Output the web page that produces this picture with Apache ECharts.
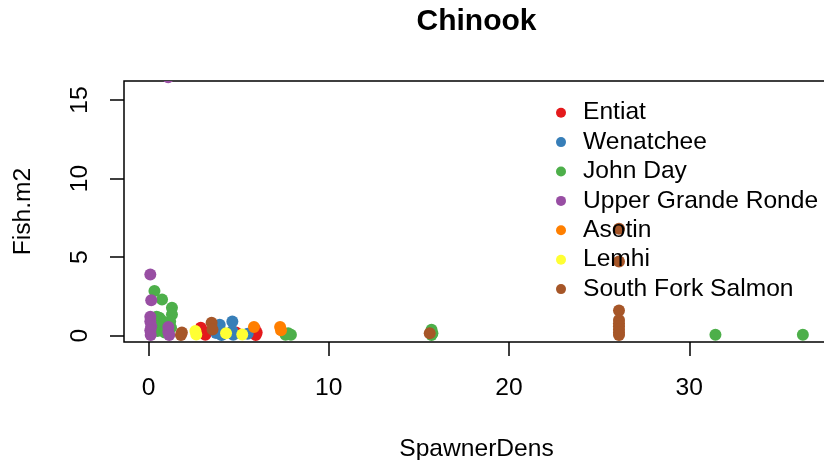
<!DOCTYPE html>
<html>
<head>
<meta charset="utf-8">
<script src="https://cdn.jsdelivr.net/npm/echarts@6/dist/echarts.min.js"></script>
<style>
  html, body { margin: 0; padding: 0; background: #fff; }
  #chart { width: 824px; height: 460px; }
</style>
</head>
<body>
<div id="chart"></div>
<script>
// Juvenile Chinook density (fish per m2) against spawner density, by watershed
const siteNames = ['Entiat', 'Wenatchee', 'John Day', 'Upper Grande Ronde', 'Asotin', 'Lemhi', 'South Fork Salmon'];
const siteColors = ['#E41A1C', '#377EB8', '#4DAF4A', '#984EA3', '#FF7F00', '#FFFF33', '#A65628'];

// [SpawnerDens, Fish.m2] pairs per watershed
const entiat = [[2.9, 0.5], [3.05, 0.27], [3.15, 0.06], [4.85, 0.2], [5.9, 0.42], [6.0, 0.2], [5.95, 0.05]];
const wenatchee = [[3.75, 0.17], [3.95, 0.7], [4.0, 0.3], [4.05, 0.05], [4.65, 0.91], [4.65, 0.3], [4.7, 0.06], [5.5, 0.12]];
const johnDay = [[0.33, 2.85], [0.75, 2.3], [1.3, 1.78], [1.3, 1.35], [0.45, 1.2], [0.6, 1.15], [0.35, 1.0],
                 [0.7, 1.0], [0.5, 0.85], [0.8, 0.75], [0.4, 0.6], [0.65, 0.5], [1.2, 0.9], [1.25, 0.5],
                 [0.5, 0.3], [0.9, 0.2], [7.6, 0.06], [7.9, 0.06], [7.75, 0.15], [15.7, 0.38], [15.75, 0.15],
                 [15.7, 0.05], [31.45, 0.06], [36.3, 0.06]];
const upperGrandeRonde = [[1.09, 16.45], [0.1, 3.9], [0.15, 2.25], [0.1, 1.2], [0.1, 0.9], [0.15, 0.6],
                          [0.1, 0.35], [0.12, 0.05], [1.1, 0.55], [1.1, 0.25], [1.15, 0.05]];
const asotin = [[5.85, 0.55], [7.3, 0.55], [7.35, 0.35]];
const lemhi = [[2.6, 0.3], [2.65, 0.08], [4.3, 0.15], [5.2, 0.08]];
const southForkSalmon = [[1.85, 0.2], [1.8, 0.05], [3.5, 0.83], [3.55, 0.4], [15.6, 0.15],
                         [26.1, 6.8], [26.1, 4.72], [26.1, 1.6], [26.1, 1.0], [26.1, 0.8], [26.1, 0.6],
                         [26.1, 0.4], [26.1, 0.2], [26.1, 0.05]];
const siteData = [entiat, wenatchee, johnDay, upperGrandeRonde, asotin, lemhi, southForkSalmon];

const xTicks = [0, 10, 20, 30];
const yTicks = [0, 5, 10, 15];

const FONT = '"Liberation Sans", Arial, Helvetica, sans-serif';
const FS = 24.6;

const chart = echarts.init(document.getElementById('chart'), null, { renderer: 'canvas' });

const series = siteNames.map((name, i) => ({
  name: name,
  type: 'custom',
  clip: true,
  coordinateSystem: 'cartesian2d',
  itemStyle: { color: siteColors[i] },
  encode: { x: 0, y: 1 },
  data: siteData[i],
  renderItem: function (params, api) {
    const p = api.coord([api.value(0), api.value(1)]);
    return {
      type: 'circle',
      shape: { cx: p[0], cy: p[1], r: 6 },
      style: { fill: siteColors[i] }
    };
  }
}));

chart.setOption({
  animation: false,
  backgroundColor: '#fff',
  textStyle: { fontFamily: FONT },
  graphic: [{
    type: 'text',
    x: 476.5,
    y: 21.5,
    style: {
      text: 'Chinook',
      font: 'bold 30px ' + FONT,
      fill: '#000',
      textAlign: 'center',
      textVerticalAlign: 'middle'
    }
  }],
  grid: {
    left: 124, top: 81, width: 705, bottom: 118,
    outerBoundsMode: 'none',
    containLabel: false,
    show: true, borderColor: '#000', borderWidth: 1.5, backgroundColor: 'transparent'
  },
  legend: {
    orient: 'vertical',
    left: 551,
    top: 93,
    itemWidth: 10,
    itemHeight: 10,
    itemGap: 0,
    icon: 'circle',
    data: siteNames,
    textStyle: { fontSize: FS, color: '#000', fontFamily: FONT, lineHeight: 29.4, padding: [0, 0, 0, 12] }
  },
  xAxis: {
    type: 'value',
    min: -1.36,
    max: 37.75,
    name: 'SpawnerDens',
    nameLocation: 'middle',
    nameGap: 95,
    nameTextStyle: { fontSize: FS, color: '#000', fontFamily: FONT },
    splitLine: { show: false },
    axisLine: { show: false, onZero: false },
    axisTick: { show: true, customValues: xTicks, length: 14, inside: false, lineStyle: { color: '#000', width: 1.5 } },
    axisLabel: { customValues: xTicks, fontSize: FS, color: '#000', margin: 34, fontFamily: FONT }
  },
  yAxis: {
    type: 'value',
    min: -0.4,
    max: 16.21,
    name: 'Fish.m2',
    nameLocation: 'middle',
    nameGap: 88,
    nameRotate: 90,
    nameTextStyle: { fontSize: FS, color: '#000', fontFamily: FONT },
    splitLine: { show: false },
    axisLine: { show: false, onZero: false },
    axisTick: { show: true, customValues: yTicks, length: 14, inside: false, lineStyle: { color: '#000', width: 1.5 } },
    axisLabel: { customValues: yTicks, fontSize: FS, color: '#000', margin: 31, rotate: 90, fontFamily: FONT }
  },
  series: series
});
</script>
</body>
</html>
